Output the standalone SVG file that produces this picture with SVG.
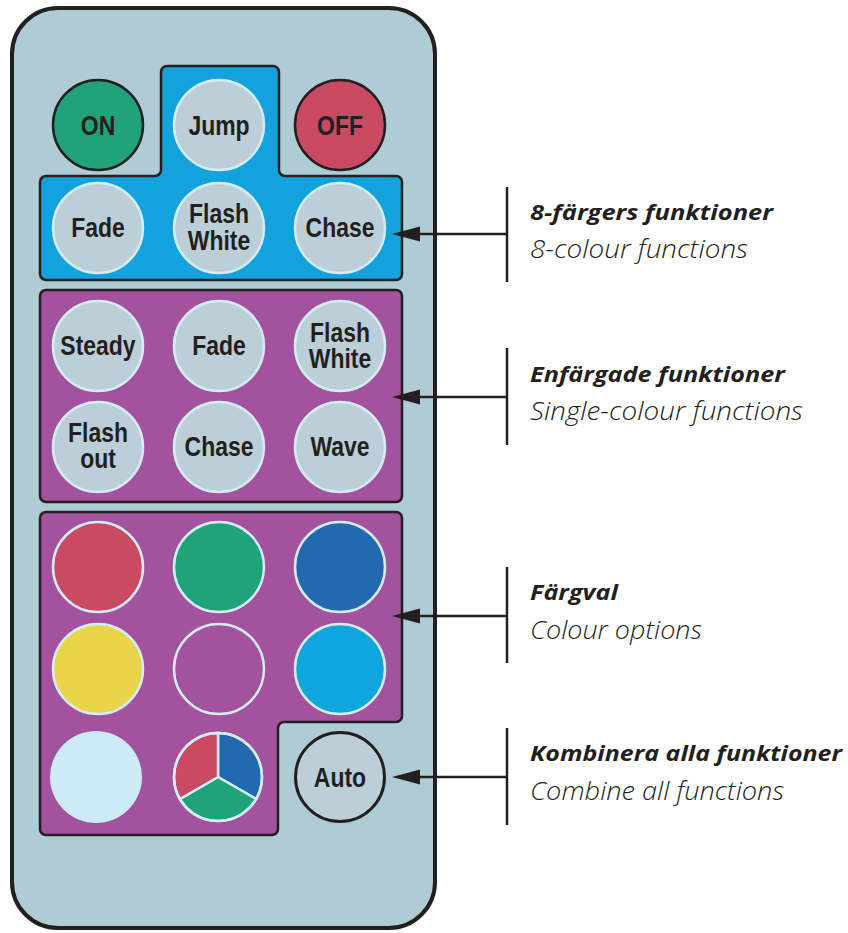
<svg xmlns="http://www.w3.org/2000/svg" width="848" height="933" viewBox="0 0 848 933">
<defs>
<style>
.panel{stroke:#231f20;stroke-width:2.5}
.btn{fill:#bccfd8;stroke:#d4ecf7;stroke-width:2.5}
.bt{font-family:"Liberation Sans",Arial,sans-serif;font-weight:bold;font-size:28px;fill:#231f20;text-anchor:middle}
.cc{stroke:#d4ecf7;stroke-width:2.5}
.conn{stroke:#231f20;stroke-width:2.5;fill:none}
.h{font-family:"Open Sans",Lato,sans-serif;font-style:italic;font-weight:bold;font-size:21.5px;fill:#231f20}
.s{font-family:"Open Sans",Lato,sans-serif;font-style:italic;font-weight:300;font-size:25px;fill:#231f20}
</style>
<marker id="ah" markerUnits="userSpaceOnUse" markerWidth="28" markerHeight="16" viewBox="0 0 28 16" refX="0" refY="8" orient="auto">
<path d="M0,0.5 L28,8 L0,15.5 Z" fill="#231f20"/>
</marker>
</defs>
<g id="remote">
<rect x="12" y="8" width="423" height="920" rx="46" fill="#afccd4" stroke="#231f20" stroke-width="4"/>
</g>
<g id="panel-8colour">
<path class="panel" fill="#13a2db" d="M167,66 H273 A6,6 0 0 1 279,72 V170 A6,6 0 0 0 285,176 H396 A6,6 0 0 1 402,182 V274 A6,6 0 0 1 396,280 H46 A6,6 0 0 1 40,274 V182 A6,6 0 0 1 46,176 H155 A6,6 0 0 0 161,170 V72 A6,6 0 0 1 167,66 Z"/>
</g>
<g id="panel-single">
<rect class="panel" fill="#a3529e" x="40" y="290" width="362" height="212" rx="6"/>
</g>
<g id="panel-colour">
<path class="panel" fill="#a3529e" d="M46,512 H396 A6,6 0 0 1 402,518 V716 A6,6 0 0 1 396,722 H284 A6,6 0 0 0 278,728 V829 A6,6 0 0 1 272,835 H46 A6,6 0 0 1 40,829 V518 A6,6 0 0 1 46,512 Z"/>
</g>
<g id="btn-on">
<circle cx="98" cy="125" r="45" fill="#21a37a" stroke="#231f20" stroke-width="2.5"/>
<text class="bt" transform="translate(98,135) scale(0.82,1)">ON</text>
</g>
<g id="btn-jump">
<circle class="btn" cx="219" cy="125" r="45"/>
<text class="bt" transform="translate(219,135) scale(0.82,1)">Jump</text>
</g>
<g id="btn-off">
<circle cx="340" cy="125" r="45" fill="#c94a62" stroke="#231f20" stroke-width="2.5"/>
<text class="bt" transform="translate(340,135) scale(0.82,1)">OFF</text>
</g>
<g id="btn-fade8">
<circle class="btn" cx="98" cy="228" r="45"/>
<text class="bt" transform="translate(98,237) scale(0.82,1)">Fade</text>
</g>
<g id="btn-flashwhite8">
<circle class="btn" cx="219" cy="228" r="45"/>
<text class="bt" transform="translate(219,223) scale(0.82,1)">Flash</text>
<text class="bt" transform="translate(219,250) scale(0.82,1)">White</text>
</g>
<g id="btn-chase8">
<circle class="btn" cx="340" cy="228" r="45"/>
<text class="bt" transform="translate(340,237) scale(0.82,1)">Chase</text>
</g>
<g id="btn-steady">
<circle class="btn" cx="98" cy="346" r="45"/>
<text class="bt" transform="translate(98,355) scale(0.82,1)">Steady</text>
</g>
<g id="btn-fade1">
<circle class="btn" cx="219" cy="346" r="45"/>
<text class="bt" transform="translate(219,355) scale(0.82,1)">Fade</text>
</g>
<g id="btn-flashwhite1">
<circle class="btn" cx="340" cy="346" r="45"/>
<text class="bt" transform="translate(340,342) scale(0.82,1)">Flash</text>
<text class="bt" transform="translate(340,368) scale(0.82,1)">White</text>
</g>
<g id="btn-flashout">
<circle class="btn" cx="98" cy="447" r="45"/>
<text class="bt" transform="translate(98,442) scale(0.82,1)">Flash</text>
<text class="bt" transform="translate(98,468) scale(0.82,1)">out</text>
</g>
<g id="btn-chase1">
<circle class="btn" cx="219" cy="447" r="45"/>
<text class="bt" transform="translate(219,456) scale(0.82,1)">Chase</text>
</g>
<g id="btn-wave">
<circle class="btn" cx="340" cy="447" r="45"/>
<text class="bt" transform="translate(340,456) scale(0.82,1)">Wave</text>
</g>
<g id="col-red"><circle class="cc" cx="98" cy="567" r="45" fill="#c94a62"/></g>
<g id="col-green"><circle class="cc" cx="219" cy="567" r="45" fill="#21a37a"/></g>
<g id="col-blue"><circle class="cc" cx="340" cy="567" r="45" fill="#2469b0"/></g>
<g id="col-yellow"><circle class="cc" cx="98" cy="669" r="45" fill="#e9d44a"/></g>
<g id="col-magenta"><circle class="cc" cx="219" cy="669" r="45" fill="#a3529e"/></g>
<g id="col-cyan"><circle class="cc" cx="340" cy="669" r="45" fill="#10a5dd"/></g>
<g id="col-white"><circle cx="96" cy="777" r="46" fill="#cdeaf9"/></g>
<g id="col-rgb">
<path class="cc" fill="#2469b0" d="M218,777 L218,733 A44,44 0 0 1 256.1,799 Z"/>
<path class="cc" fill="#21a37a" d="M218,777 L256.1,799 A44,44 0 0 1 179.9,799 Z"/>
<path class="cc" fill="#c94a62" d="M218,777 L179.9,799 A44,44 0 0 1 218,733 Z"/>
<circle class="cc" cx="218" cy="777" r="44" fill="none"/>
</g>
<g id="btn-auto">
<circle cx="340" cy="777" r="44.5" fill="#bccfd8" stroke="#231f20" stroke-width="3"/>
<text class="bt" transform="translate(340,787) scale(0.82,1)">Auto</text>
</g>
<g id="connectors">
<line class="conn" x1="507" y1="187" x2="507" y2="282"/>
<line class="conn" x1="507" y1="234" x2="420" y2="234" marker-end="url(#ah)"/>
<line class="conn" x1="507" y1="348" x2="507" y2="445"/>
<line class="conn" x1="507" y1="397" x2="420" y2="397" marker-end="url(#ah)"/>
<line class="conn" x1="507" y1="567" x2="507" y2="663"/>
<line class="conn" x1="507" y1="616" x2="420" y2="616" marker-end="url(#ah)"/>
<line class="conn" x1="507" y1="728" x2="507" y2="825"/>
<line class="conn" x1="507" y1="777" x2="420" y2="777" marker-end="url(#ah)"/>
</g>
<g id="labels">
<text class="h" x="530" y="220" textLength="243" lengthAdjust="spacingAndGlyphs">8-färgers funktioner</text>
<text class="s" x="530" y="258" textLength="218" lengthAdjust="spacingAndGlyphs">8-colour functions</text>
<text class="h" x="530" y="382" textLength="255" lengthAdjust="spacingAndGlyphs">Enfärgade funktioner</text>
<text class="s" x="530" y="420" textLength="273" lengthAdjust="spacingAndGlyphs">Single-colour functions</text>
<text class="h" x="530" y="600" textLength="88" lengthAdjust="spacingAndGlyphs">Färgval</text>
<text class="s" x="530" y="639" textLength="172" lengthAdjust="spacingAndGlyphs">Colour options</text>
<text class="h" x="530" y="761" textLength="312" lengthAdjust="spacingAndGlyphs">Kombinera alla funktioner</text>
<text class="s" x="530" y="800" textLength="254" lengthAdjust="spacingAndGlyphs">Combine all functions</text>
</g>
</svg>
